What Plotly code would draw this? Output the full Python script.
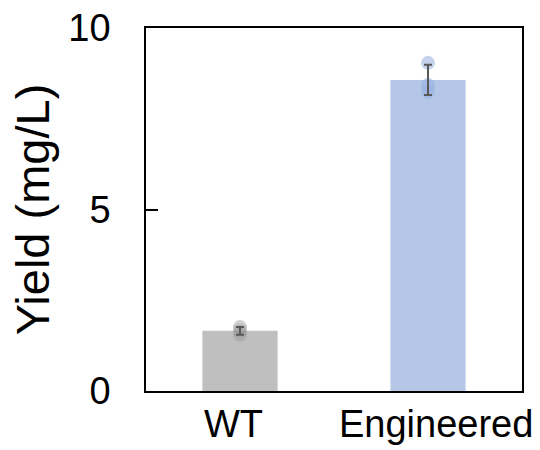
import numpy as np
import plotly.graph_objects as go

# Strains and replicate yields (mg/L)
strains = ["WT", "Engineered"]
wt_reps = [1.76, 1.66, 1.55]
eng_reps = [9.04, 8.43, 8.24]
replicates = [wt_reps, eng_reps]

bar_colors = ["#bfbfbf", "#b4c7e7"]
dot_colors = ["rgba(150,150,150,0.45)", "rgba(150,175,225,0.55)"]
label_nudge = [-7, 8]  # horizontal offset of each category label, px

means = [float(np.mean(r)) for r in replicates]
sds = [float(np.std(r, ddof=1)) for r in replicates]

fig = go.Figure()

fig.add_trace(go.Bar(
    x=strains, y=means,
    marker=dict(color=bar_colors, line=dict(width=0)),
    width=0.4, showlegend=False,
))

for name, reps, col in zip(strains, replicates, dot_colors):
    fig.add_trace(go.Scatter(
        x=[name] * len(reps), y=reps, mode="markers",
        marker=dict(size=14, color=col, line=dict(width=0)),
        showlegend=False,
    ))

# error bars drawn above the replicate dots
fig.add_trace(go.Scatter(
    x=strains, y=means, mode="markers",
    marker=dict(size=1, color="rgba(0,0,0,0)"),
    error_y=dict(type="data", array=sds, visible=True,
                 color="#595959", thickness=2, width=4),
    showlegend=False,
))

font = "Liberation Sans, Arial, sans-serif"

# category labels under the axis
for name, dx in zip(strains, label_nudge):
    fig.add_annotation(
        x=name, xref="x", y=0, yref="paper", yanchor="top",
        text=name, showarrow=False, xshift=dx, yshift=-10,
        font=dict(size=38, family=font, color="black"),
    )

fig.update_layout(
    width=540, height=450,
    margin=dict(l=146, r=18, t=28, b=59),
    paper_bgcolor="white", plot_bgcolor="white",
    font=dict(family=font, color="black", size=38),
    bargap=0.6,
)
fig.update_xaxes(
    range=[-0.5, 1.5], showline=True, linecolor="black", linewidth=1.5,
    mirror=True, ticks="", showgrid=False, zeroline=False, automargin=False,
    showticklabels=False,
)
fig.update_yaxes(
    range=[0, 10], tickvals=[0, 5, 10], ticktext=["0", "5", "10"],
    showline=True, linecolor="black", linewidth=1.5, mirror=True,
    ticks="inside", ticklen=12, tickwidth=1.5, tickcolor="black",
    showgrid=False, zeroline=False, automargin=False,
    tickfont=dict(size=38, family=font, color="black"),
    ticklabelstandoff=26,
    title=dict(text="Yield (mg/L)", font=dict(size=47, family=font, color="black"),
               standoff=4),
)

fig.write_html("out.html")
